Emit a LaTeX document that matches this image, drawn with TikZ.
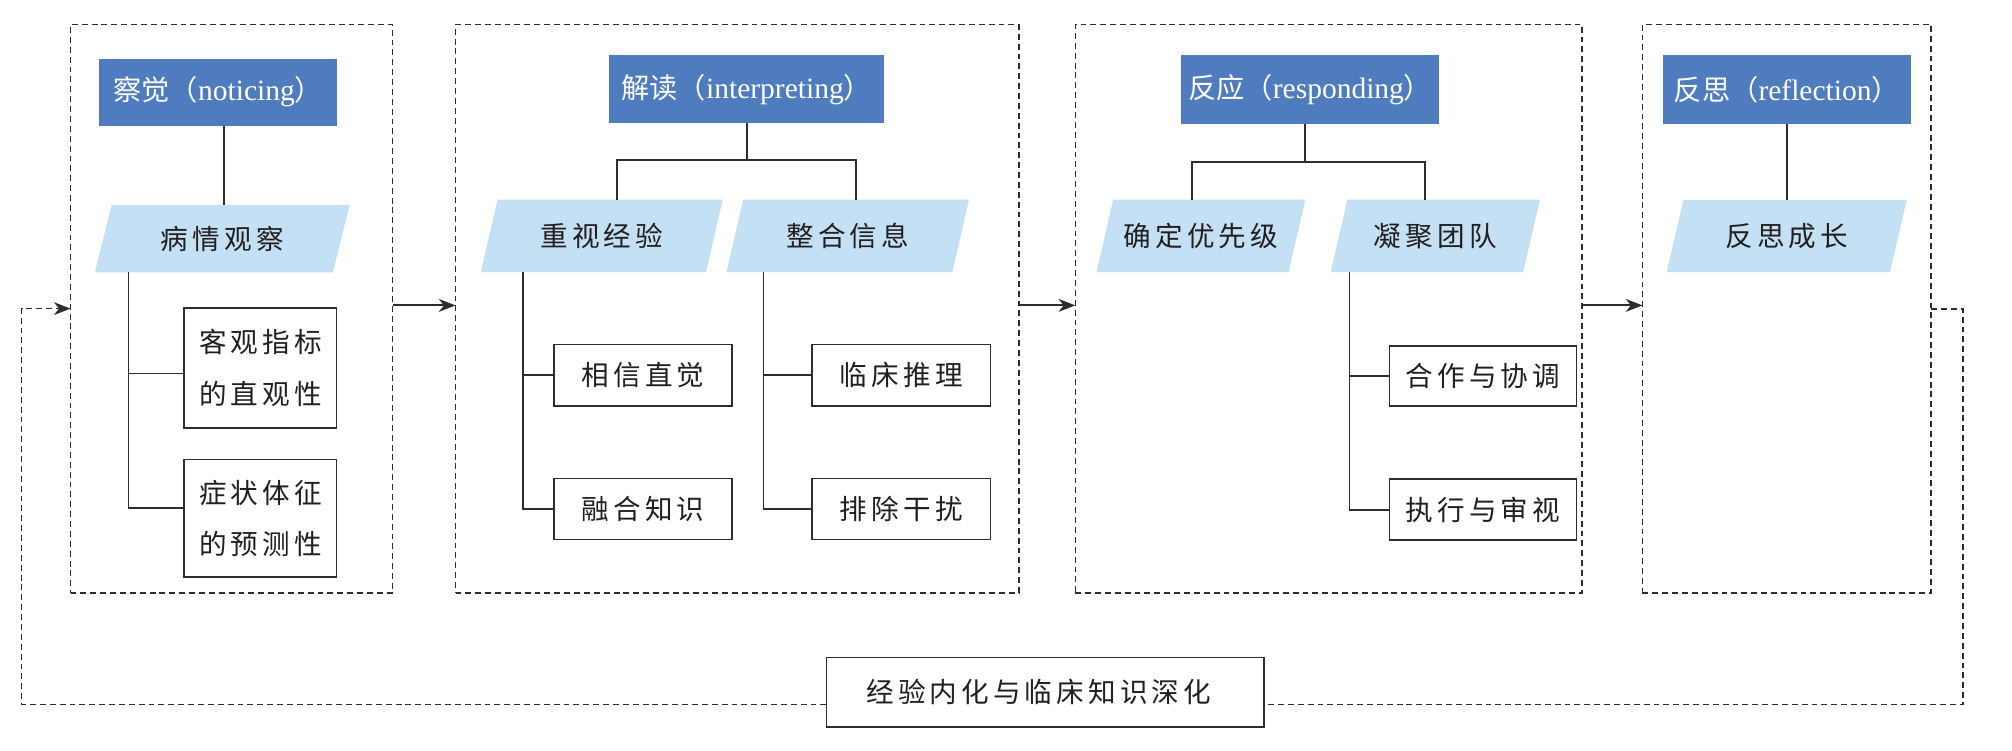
\documentclass[tikz,border=0pt]{standalone}
\usepackage{fontspec}
\setmainfont{Liberation Serif}
\newfontfamily\cjk[LetterSpace=15]{Noto Sans CJK SC}
\newfontfamily\cjkt{Noto Sans CJK SC}
\usetikzlibrary{arrows.meta}
\definecolor{titleblue}{RGB}{79,124,190}
\definecolor{parablue}{RGB}{196,224,244}
\definecolor{linegray}{RGB}{45,45,48}
\definecolor{txt}{RGB}{35,31,32}
\newcommand\paranode[6]{%
  \fill[parablue] ({#2-#4/2-6.5},{#3+#5/2}) -- ({#2+#4/2-6.5},{#3+#5/2}) -- ({#2+#4/2+6.5},{#3-#5/2}) -- ({#2-#4/2+6.5},{#3-#5/2}) -- cycle;
  \node[paratext, minimum width=#4pt, minimum height=#5pt] (#1) at (#2,#3) {#6};
}
\begin{document}
\begin{tikzpicture}[x=1pt,y=-1pt,
  dashbox/.style={draw=linegray, line width=1.2pt, dash pattern=on 4.6pt off 3.1pt, inner sep=0pt, outer sep=0pt},
  titlebox/.style={fill=titleblue, text=white, inner sep=0pt, outer sep=0pt, font=\fontsize{23}{26}\selectfont},
  paratext/.style={inner sep=0pt, outer sep=0pt, text=txt, font=\fontsize{21.5}{25}\selectfont\cjk},
  leaf/.style={draw=linegray, line width=1.3pt, fill=white, inner sep=0pt, outer sep=0pt, text=txt, align=center, font=\fontsize{21.5}{40}\selectfont\cjk},
  conn/.style={draw=linegray, line width=1.4pt},
  flow/.style={draw=linegray, line width=1.4pt, -{Stealth[length=13pt,width=10pt,inset=4pt]}},
  loopline/.style={draw=linegray, line width=1.2pt, dash pattern=on 4.6pt off 3.1pt},
]
\useasboundingbox (0,0) rectangle (1568,585);

% section boxes
\node[dashbox, minimum width=251pt, minimum height=443pt] (s1) at (180.5,240.5) {};
\node[dashbox, minimum width=439pt, minimum height=443pt] (s2) at (574.5,240.5) {};
\node[dashbox, minimum width=395pt, minimum height=443pt] (s3) at (1035.5,240.5) {};
\node[dashbox, minimum width=225pt, minimum height=443pt] (s4) at (1392.5,240.5) {};

% titles
\node[titlebox, minimum width=185.3pt, minimum height=52.3pt] (t1) at (170.15,71.75) {{\cjkt\fontsize{22}{26}\selectfont 察觉（}noticing{\cjkt\fontsize{22}{26}\selectfont ）}};
\node[titlebox, minimum width=214.1pt, minimum height=53pt] (t2) at (581.95,69.5) {{\cjkt\fontsize{22}{26}\selectfont 解读（}interpreting{\cjkt\fontsize{22}{26}\selectfont ）}};
\node[titlebox, minimum width=201.5pt, minimum height=53.9pt] (t3) at (1021.05,69.95) {{\cjkt\fontsize{22}{26}\selectfont 反应（}responding{\cjkt\fontsize{22}{26}\selectfont ）}};
\node[titlebox, minimum width=193.6pt, minimum height=54pt] (t4) at (1392.5,70) {{\cjkt\fontsize{22}{26}\selectfont 反思（}reflection{\cjkt\fontsize{22}{26}\selectfont ）}};

% parallelograms
\paranode{p1}{173.2}{186}{185.5}{52.5}{病情观察}
\paranode{p2a}{469}{183.75}{175.5}{56.5}{重视经验}
\paranode{p2b}{660.7}{183.75}{176}{56.5}{整合信息}
\paranode{p3a}{935.9}{183.75}{149.7}{56.5}{确定优先级}
\paranode{p3b}{1118.6}{183.75}{150}{56.5}{凝聚团队}
\paranode{p4}{1392.4}{184}{174}{56}{反思成长}

% leaf boxes
\node[leaf, minimum width=118.7pt, minimum height=93.5pt] (a1) at (202.95,286.75) {客观指标\\的直观性};
\node[leaf, minimum width=118.7pt, minimum height=91.6pt] (b1) at (202.95,403.8) {症状体征\\的预测性};
\node[leaf, minimum width=139pt, minimum height=48pt] (a2) at (501.1,292.5) {相信直觉};
\node[leaf, minimum width=139pt, minimum height=47.5pt] (b2) at (501.1,396.75) {融合知识};
\node[leaf, minimum width=138.9pt, minimum height=48pt] (c2) at (702.45,292.5) {临床推理};
\node[leaf, minimum width=138.9pt, minimum height=47.5pt] (d2) at (702.45,396.75) {排除干扰};
\node[leaf, minimum width=145.8pt, minimum height=47.1pt] (e3) at (1155.7,292.95) {合作与协调};
\node[leaf, minimum width=145.8pt, minimum height=47.5pt] (f3) at (1155.7,397.25) {执行与审视};

% bottom box
\node[leaf, minimum width=341pt, minimum height=54pt] (fb) at (814.5,539.5) {经验内化与临床知识深化\hspace*{10pt}};

% title to parallelogram connectors
\coordinate (v1) at (174.5,0);
\draw[conn] (t1.south -| v1) -- (p1.north -| v1);
\coordinate (k2l) at (481,125);
\coordinate (k2r) at (667,125);
\draw[conn] (t2.south) -- (t2.south |- k2l);
\draw[conn] (p2a.north -| k2l) -- (k2l) -- (k2r) -- (p2b.north -| k2r);
\coordinate (k3m) at (1016.9,126.2);
\coordinate (k3l) at (929,126.2);
\coordinate (k3r) at (1110.6,126.2);
\draw[conn] (t3.south -| k3m) -- (k3m);
\draw[conn] (p3a.north -| k3l) -- (k3l) -- (k3r) -- (p3b.north -| k3r);
\draw[conn] (t4.south) -- (p4.north -| t4.south);

% trunks
\coordinate (r1a) at (100.2,291);
\coordinate (r1b) at (100.2,396);
\draw[conn] (p1.south -| r1a) -- (r1b) -- (b1.west |- r1b);
\draw[conn] (r1a) -- (a1.west |- r1a);
\coordinate (r2) at (407.5,0);
\draw[conn] (p2a.south -| r2) -- (r2 |- b2.west) -- (b2.west);
\draw[conn] (r2 |- a2.west) -- (a2.west);
\coordinate (r2b) at (595,0);
\draw[conn] (p2b.south -| r2b) -- (r2b |- d2.west) -- (d2.west);
\draw[conn] (r2b |- c2.west) -- (c2.west);
\coordinate (r3) at (1051.7,0);
\draw[conn] (p3b.south -| r3) -- (r3 |- f3.west) -- (f3.west);
\draw[conn] (r3 |- e3.west) -- (e3.west);

% flow arrows
\coordinate (ya) at (0,238);
\draw[flow] (s1.east |- ya) -- (s2.west |- ya);
\draw[flow] (s2.east |- ya) -- (s3.west |- ya);
\draw[flow] (s3.east |- ya) -- (s4.west |- ya);

% feedback loop
\coordinate (lr) at (1530,241);
\coordinate (lb) at (1530,549);
\coordinate (ll) at (16.8,549);
\coordinate (lt) at (16.8,240.5);
\draw[loopline] (s4.east |- lr) -- (lr) -- (lb) -- (fb.east |- lb);
\draw[loopline, -{Stealth[length=13pt,width=10pt,inset=4pt]}] (fb.west |- ll) -- (ll) -- (lt) -- (s1.west |- lt);
\end{tikzpicture}
\end{document}
